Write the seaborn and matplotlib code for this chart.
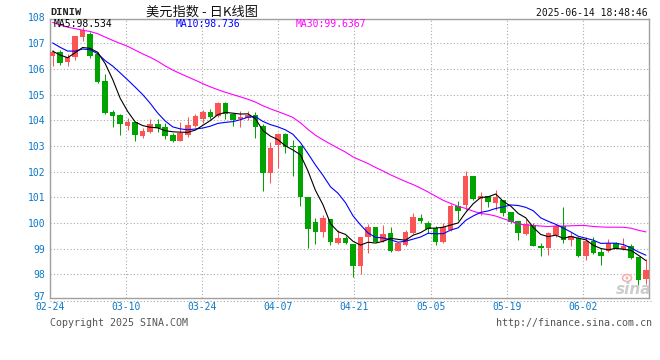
import numpy as np
import pandas as pd
import matplotlib
matplotlib.use("Agg")
import matplotlib.pyplot as plt
from matplotlib.lines import Line2D
from matplotlib.patches import Ellipse
import seaborn as sns

# ---------------- data ----------------
dates = pd.bdate_range("2025-02-24", "2025-06-13")  # 80 trading days

open_ = [106.50, 106.68, 106.28, 106.46, 107.23, 107.36, 106.59, 105.55, 104.33, 104.20,
         103.77, 103.94, 103.39, 103.55, 103.85, 103.75, 103.43, 103.21, 103.43, 103.77,
         104.05, 104.32, 104.18, 104.67, 104.26, 104.04, 104.10, 104.19, 103.77, 101.94,
         103.04, 103.46, 103.00, 103.00, 101.00, 100.03, 99.66, 100.16, 99.23, 99.43,
         99.18, 98.32, 99.47, 99.83, 99.31, 99.60, 98.92, 99.14, 99.62, 100.19,
         100.00, 99.81, 99.25, 99.74, 100.68, 100.71, 101.82, 100.95, 101.06, 100.78,
         100.91, 100.42, 100.09, 99.58, 99.94, 99.12, 99.03, 99.55, 99.90, 99.35,
         99.42, 98.70, 99.29, 98.86, 98.90, 99.22, 99.00, 99.09, 98.68, 97.80]
high = [106.74, 106.74, 106.60, 107.30, 107.65, 107.43, 106.65, 105.79, 104.39, 104.26,
        104.10, 103.94, 103.71, 104.07, 104.07, 103.88, 103.52, 103.94, 104.14, 104.23,
        104.41, 104.45, 104.71, 104.71, 104.26, 104.38, 104.36, 104.32, 103.87, 103.17,
        103.49, 103.49, 103.23, 103.04, 101.00, 100.18, 100.31, 100.16, 99.73, 99.49,
        99.18, 99.44, 99.96, 99.83, 99.92, 99.83, 99.23, 99.73, 100.40, 100.35,
        100.09, 99.87, 100.00, 100.75, 100.87, 102.01, 101.82, 101.19, 101.06, 101.30,
        100.91, 100.42, 100.09, 100.17, 100.00, 99.22, 99.64, 99.97, 100.61, 99.64,
        99.45, 99.45, 99.45, 99.03, 99.38, 99.27, 99.42, 99.19, 98.68, 98.61]
low = [106.11, 106.16, 106.11, 106.37, 107.10, 106.43, 105.46, 104.24, 103.75, 103.43,
       103.62, 103.21, 103.30, 103.49, 103.55, 103.27, 103.17, 103.21, 103.36, 103.75,
       103.90, 104.05, 104.15, 104.04, 103.77, 103.74, 104.00, 103.33, 101.26, 101.55,
       102.13, 102.74, 101.84, 100.68, 99.01, 99.18, 99.47, 99.14, 99.18, 99.18,
       97.91, 98.00, 98.84, 99.27, 99.27, 98.88, 98.92, 99.10, 99.57, 99.98,
       99.61, 99.16, 99.22, 99.68, 100.10, 100.49, 100.91, 100.32, 100.62, 100.52,
       100.26, 100.00, 99.32, 99.55, 99.12, 98.70, 98.77, 99.45, 99.22, 99.12,
       98.68, 98.57, 98.81, 98.35, 98.86, 99.00, 98.96, 98.60, 97.60, 97.62]
close = [106.68, 106.25, 106.48, 107.27, 107.52, 106.50, 105.49, 104.29, 104.17, 103.85,
         103.94, 103.43, 103.59, 103.85, 103.72, 103.40, 103.21, 103.52, 103.81, 104.16,
         104.32, 104.15, 104.67, 104.26, 104.00, 104.15, 104.19, 103.74, 101.94, 102.91,
         103.46, 102.97, 102.95, 101.00, 99.77, 99.66, 100.18, 99.27, 99.43, 99.23,
         98.32, 99.44, 99.83, 99.27, 99.56, 98.92, 99.23, 99.66, 100.25, 100.06,
         99.78, 99.25, 99.84, 100.68, 100.45, 101.82, 100.95, 101.06, 100.81, 101.01,
         100.39, 100.03, 99.61, 99.97, 99.12, 99.03, 99.61, 99.90, 99.35, 99.48,
         98.70, 99.29, 98.83, 98.73, 99.22, 99.00, 99.09, 98.64, 97.76, 98.18]
# closes before 02-24 (off-chart, estimated so the moving averages start as drawn)
prior_close = [109.26, 109.08, 109.00, 109.35, 108.00, 108.06, 108.25, 108.00, 107.44,
               107.35, 107.86, 107.99, 107.80, 108.37, 108.92, 108.00, 107.60, 107.70,
               108.04, 108.30, 107.96, 107.94, 107.30, 106.70, 106.80, 107.00, 107.00,
               106.30, 106.50]

tick_labels = ["02-24", "03-10", "03-24", "04-07", "04-21", "05-05", "05-19", "06-02"]
y_levels = [97, 98, 99, 100, 101, 102, 103, 104, 105, 106, 107, 108]
ma_texts = ["MA5:98.534", "MA10:98.736", "MA30:99.6367"]
header_code = "DINIW"
title = "美元指数 - 日K线图"
stamp = "2025-06-14 18:48:46"
copyright_text = "Copyright 2025 SINA.COM"
url_text = "http://finance.sina.com.cn"

# ---------------- build ----------------
o = np.array(open_); h = np.array(high); l = np.array(low); c = np.array(close)
n = len(c)
idx = np.arange(n)
full = pd.Series(np.r_[prior_close, c])
k0 = len(prior_close)
df = pd.DataFrame({
    "idx": idx,
    "MA5": full.rolling(5).mean().values[k0:],
    "MA10": full.rolling(10).mean().values[k0:],
    "MA30": full.rolling(30).mean().values[k0:],
})

sns.set_theme(style="white")
plt.rcParams["font.family"] = ["DejaVu Sans Mono", "Noto Sans CJK SC"]

W, H = 660, 360
fig = plt.figure(figsize=(6.6, 3.6), dpi=100)
L, R, T, B = 50, 649.3, 19, 297.7
ax = fig.add_axes([L / W, 1 - B / H, (R - L) / W, (B - T) / H])

red, green = "#fa5454", "#00a300"
cols = np.where(c >= o, red, green)
ax.vlines(idx, l, h, colors=cols, linewidth=0.75, zorder=2)
ax.bar(idx, np.maximum(np.abs(c - o), 0.035), bottom=np.minimum(o, c), width=0.74,
       color=cols, linewidth=0, zorder=3)

sns.lineplot(data=df, x="idx", y="MA30", color="#ff00ff", linewidth=0.8, ax=ax, zorder=4)
sns.lineplot(data=df, x="idx", y="MA10", color="#0000ff", linewidth=0.8, ax=ax, zorder=5)
sns.lineplot(data=df, x="idx", y="MA5", color="#000000", linewidth=0.8, ax=ax, zorder=6)

ax.set_xlim(-0.345, 79.45)
ax.set_ylim(97.088, 107.95)
grid_step = 10.135  # date grid drawn every ~76 px
ax.set_xticks([-0.345 + grid_step * k for k in range(len(tick_labels))])
ax.set_xticklabels(tick_labels)
ax.set_yticks(y_levels[1:-1])
ax.set_yticklabels([str(v) for v in y_levels[1:-1]])
ax.set_xlabel(""); ax.set_ylabel("")
lab_col = "#0a78c8"
ax.tick_params(axis="both", length=0, labelsize=7, labelcolor=lab_col)
ax.tick_params(axis="y", pad=3.4)
ax.tick_params(axis="x", pad=3.3)
ax.grid(True, color="#aaaaaa", linestyle=(0, (1, 2)), linewidth=0.8)
ax.set_axisbelow(True)
for s in ax.spines.values():
    s.set_color("#a0a0a0"); s.set_linewidth(1.0)

ytr = ax.get_yaxis_transform()
ax.text(-4.7 / (R - L), 97.1, str(y_levels[0]), transform=ytr, ha="right", va="center",
        fontsize=7, color=lab_col, clip_on=False)
ax.text(-4.7 / (R - L), 108.0, str(y_levels[-1]), transform=ytr, ha="right", va="center",
        fontsize=7, color=lab_col, clip_on=False)

# dotted rule under the axis
fig.add_artist(Line2D([L / W, 651 / W], [1 - 300.5 / H] * 2, color="#aaaaaa",
                      linestyle=(0, (1, 2)), linewidth=0.8))

# header
fig.text(L / W, 1 - 12 / H, header_code, ha="left", va="center", fontsize=7.5,
         family=["Liberation Mono"], fontweight="bold", color="#222222")
fig.text(201.5 / W, 1 - 12.5 / H, title, ha="center", va="center", fontsize=9.5,
         family=["Noto Sans CJK SC", "DejaVu Sans"], color="#111111")
fig.text(648 / W, 1 - 12.7 / H, stamp, ha="right", va="center", fontsize=7, color="#111111")

# MA labels
for xpx, txt, col in zip([54, 175.5, 296], ma_texts, ["#000000", "#0000ff", "#ff00ff"]):
    fig.text(xpx / W, 1 - 24 / H, txt, ha="left", va="center", fontsize=7, color=col)

# footer
fig.text(L / W, 1 - 323.3 / H, copyright_text, ha="left", va="center", fontsize=7.2,
         color="#555555")
fig.text(652 / W, 1 - 323.3 / H, url_text, ha="right", va="center", fontsize=7.2,
         color="#555555")

# watermark (eye logo + word mark)
fig.add_artist(Ellipse((627 / W, 1 - 278 / H), 9 / W, 7 / H, facecolor="none",
                       edgecolor="#f2b4b4", linewidth=1.2))
fig.add_artist(Ellipse((627 / W, 1 - 278 / H), 3 / W, 3 / H, facecolor="#f2b4b4",
                       edgecolor="none"))
fig.text(634 / W, 1 - 289 / H, "sina", ha="center", va="center", fontsize=11,
         color="#c4c4c4", fontweight="bold", style="italic", family=["DejaVu Sans"], alpha=0.85)

fig.savefig("out.png", dpi=100)
